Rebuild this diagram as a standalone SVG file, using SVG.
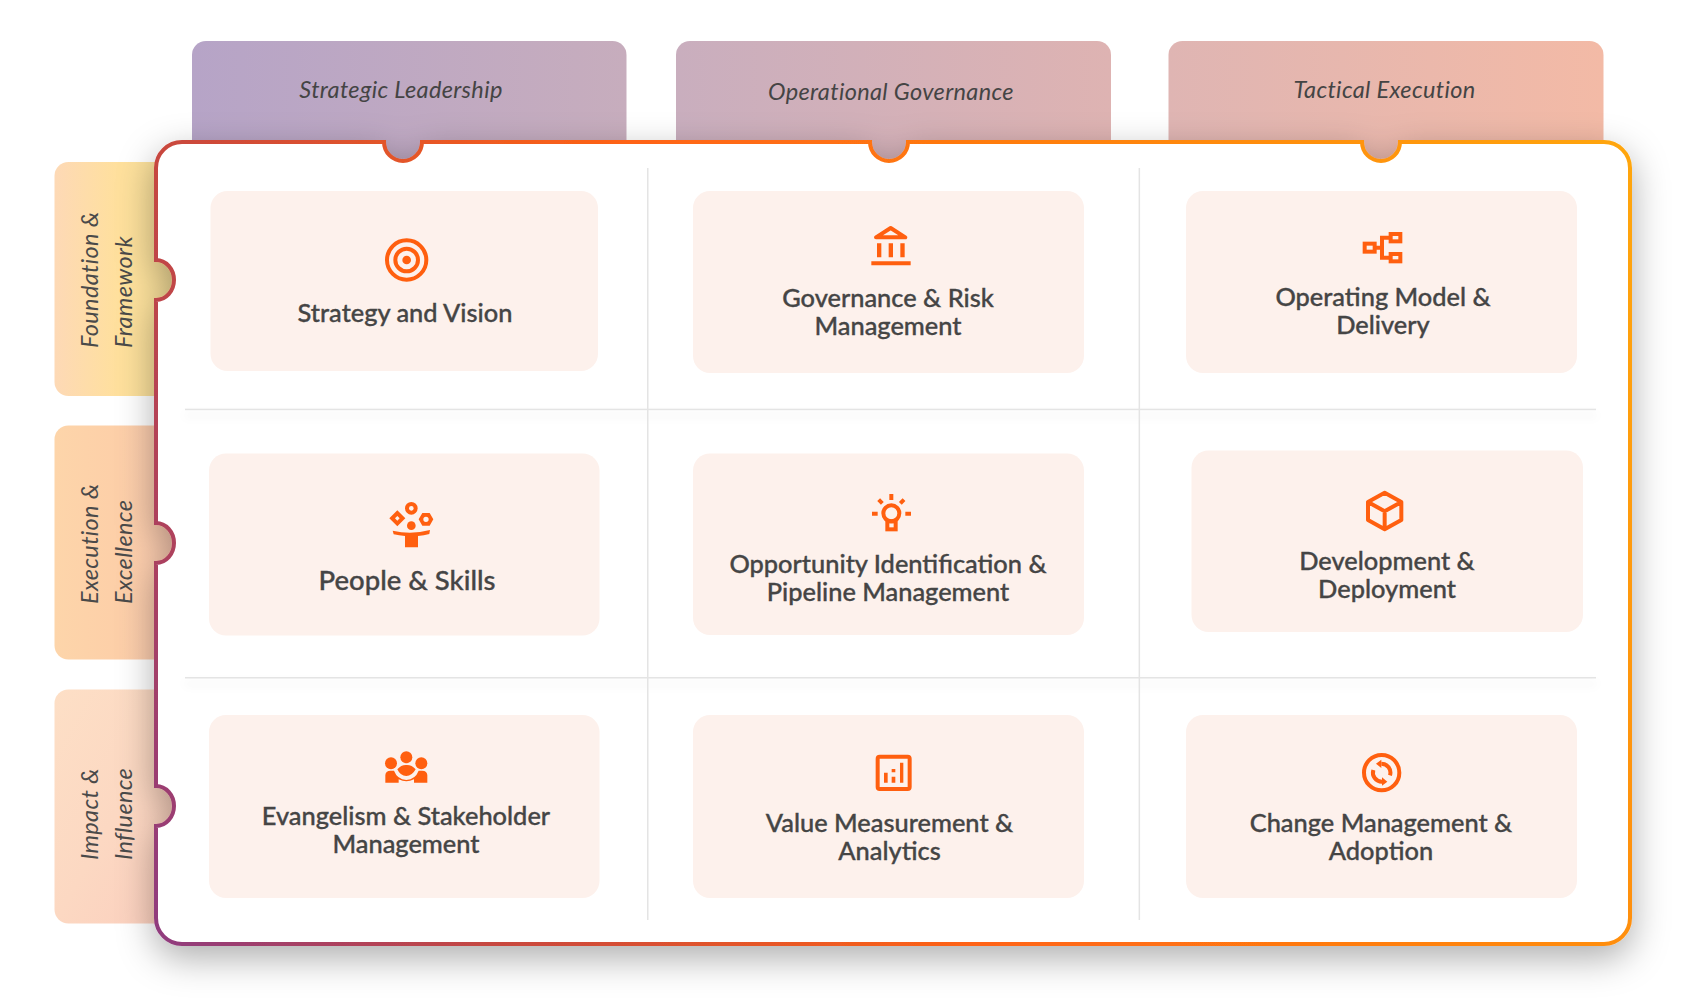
<svg xmlns="http://www.w3.org/2000/svg" width="1706" height="1003" viewBox="0 0 1706 1003">
<style>
.h{font-family:"Lato","Open Sans",sans-serif;font-style:italic;font-size:23.5px;letter-spacing:.35px;fill:#444;text-anchor:middle}
.s{font-family:"Lato","Open Sans",sans-serif;font-style:italic;font-size:23.5px;letter-spacing:.35px;fill:#4a4a4a}
.c{font-family:"Lato","Open Sans",sans-serif;font-weight:500;font-size:25.4px;fill:#454545;text-anchor:middle;stroke:#454545;stroke-width:.35}
.card{fill:#fdf1ec}
.i{fill:none;stroke:#ff5f0f;stroke-width:12}
.f{fill:#ff5f0f}
.d{fill:#e4e4e4}
</style>
<defs>
<linearGradient id="t1" x1="0" y1="0" x2="1" y2="0"><stop offset="0" stop-color="#b6a4c7"/><stop offset="1" stop-color="#c7adbd"/></linearGradient>
<linearGradient id="t2" x1="0" y1="0" x2="1" y2="0"><stop offset="0" stop-color="#c9aebe"/><stop offset="1" stop-color="#deb3b2"/></linearGradient>
<linearGradient id="t3" x1="0" y1="0" x2="1" y2="0"><stop offset="0" stop-color="#dfb5b3"/><stop offset="1" stop-color="#f3baa6"/></linearGradient>
<linearGradient id="l1" x1="0" y1="0" x2="1" y2="0"><stop offset="0" stop-color="#fdd9b6"/><stop offset=".5" stop-color="#ffe09c"/><stop offset="1" stop-color="#f6e09a"/></linearGradient>
<linearGradient id="l2" x1="0" y1="0" x2="1" y2="0"><stop offset="0" stop-color="#fdd5aa"/><stop offset=".5" stop-color="#fdcfa8"/><stop offset="1" stop-color="#fbcab4"/></linearGradient>
<linearGradient id="l3" x1="0" y1="0" x2="1" y2="1"><stop offset="0" stop-color="#fddfc6"/><stop offset=".5" stop-color="#fcd8c2"/><stop offset="1" stop-color="#fbcdbd"/></linearGradient>
<linearGradient id="frame" gradientUnits="userSpaceOnUse" x1="156" y1="944" x2="1692" y2="286"><stop offset="0" stop-color="#8f3b7f"/><stop offset=".19" stop-color="#c8473e"/><stop offset=".45" stop-color="#ff6314"/><stop offset="1" stop-color="#ffa60a"/></linearGradient>
<filter id="sh" filterUnits="userSpaceOnUse" x="0" y="0" width="1706" height="1003"><feDropShadow dx="0" dy="12" stdDeviation="18" flood-color="#000" flood-opacity=".32"/></filter>
<filter id="ls" filterUnits="userSpaceOnUse" x="0" y="0" width="1706" height="1003"><feDropShadow dx="0" dy="6" stdDeviation="4" flood-color="#000" flood-opacity=".1"/></filter>
</defs>
<rect width="1706" height="1003" fill="#fff"/>

<g id="tab-strategic">
<rect x="192" y="41" width="434.500" height="130" rx="14" fill="url(#t1)"/>
<text class="h" x="401" y="98">Strategic Leadership</text>
</g>
<g id="tab-operational">
<rect x="676" y="41" width="435" height="130" rx="14" fill="url(#t2)"/>
<text class="h" x="891" y="100">Operational Governance</text>
</g>
<g id="tab-tactical">
<rect x="1168.500" y="41" width="435" height="130" rx="14" fill="url(#t3)"/>
<text class="h" x="1384.500" y="98">Tactical Execution</text>
</g>
<g id="tab-foundation">
<rect x="54.500" y="162" width="130" height="234" rx="14" fill="url(#l1)"/>
<text class="s" transform="translate(98,348) rotate(-90)">Foundation &amp;</text>
<text class="s" transform="translate(131.500,348) rotate(-90)">Framework</text>
</g>
<g id="tab-execution">
<rect x="54.500" y="425.500" width="130" height="234" rx="14" fill="url(#l2)"/>
<text class="s" transform="translate(98,604) rotate(-90)">Execution &amp;</text>
<text class="s" transform="translate(131.500,604) rotate(-90)">Excellence</text>
</g>
<g id="tab-impact">
<rect x="54.500" y="689.500" width="130" height="234" rx="14" fill="url(#l3)"/>
<text class="s" transform="translate(98,860) rotate(-90)">Impact &amp;</text>
<text class="s" transform="translate(131.500,860) rotate(-90)">Influence</text>
</g>

<path id="frame-panel" d="M182 142H384A19 19 0 0 0 422 142H870A19 19 0 0 0 908 142H1362A19 19 0 0 0 1400 142H1604A26 26 0 0 1 1630 168V918A26 26 0 0 1 1604 944H182A26 26 0 0 1 156 918V826A18 20 0 0 0 156 786V563A18 20 0 0 0 156 523V300A18 20 0 0 0 156 260V168A26 26 0 0 1 182 142Z" fill="#fff" stroke="url(#frame)" stroke-width="4" filter="url(#sh)"/>

<g id="connectors">
<rect class="d" x="185" y="408.700" width="1411" height="1.500" filter="url(#ls)"/>
<rect class="d" x="185" y="677" width="1411" height="1.500" filter="url(#ls)"/>
<rect class="d" x="647" y="168" width="1.500" height="752"/>
<rect class="d" x="1138.600" y="168" width="1.500" height="752"/>
</g>

<g id="node-strategy">
<rect class="card" x="210.500" y="191" width="387.500" height="180" rx="17"/>
<g transform="translate(350,210) scale(.3333)">
<circle class="i" cx="170" cy="150" r="59" stroke-width="13"/>
<circle class="i" cx="170" cy="150" r="34" stroke-width="12"/>
<circle class="f" cx="170" cy="150" r="13"/>
</g>
<text class="c" x="405" y="322">Strategy and Vision</text>
</g>

<g id="node-governance">
<rect class="card" x="693" y="191" width="391" height="182" rx="17"/>
<g transform="translate(840,210) scale(.3333)">
<path class="i" d="M152 54L196 82H108Z" stroke-linejoin="round" stroke-width="13"/>
<path class="f" d="M111 100h13v42h-13zM146 100h13v42h-13zM181 100h13v42h-13zM94 154h118v12H94z"/>
</g>
<text class="c" x="888" y="307">Governance &amp; Risk</text>
<text class="c" x="888" y="335">Management</text>
</g>

<g id="node-operating">
<rect class="card" x="1186" y="191" width="391" height="182" rx="17"/>
<g transform="translate(1340,210) scale(.3333)">
<rect class="i" x="74" y="101" width="30" height="24"/>
<rect class="i" x="152" y="72" width="29" height="22"/>
<rect class="i" x="152" y="132" width="29" height="22"/>
<path class="i" d="M104 113H126M152 83H126V143H152"/>
</g>
<text class="c" x="1383" y="306">Operating Model &amp;</text>
<text class="c" x="1383" y="334">Delivery</text>
</g>

<g id="node-people">
<rect class="card" x="209" y="453.500" width="390.500" height="182" rx="17"/>
<g transform="translate(350,480) scale(.3333)">
<circle class="i" cx="184" cy="85" r="13"/>
<path class="f" fill-rule="evenodd" d="M142 91L166 115L142 139L118 115ZM142 108L135 115L142 122L149 115Z"/>
<path class="f" fill-rule="evenodd" d="M217 99H239L250 118L239 137H217L206 118ZM228 110A8 8 0 1 0 228 126A8 8 0 1 0 228 110Z"/>
<circle class="f" cx="184" cy="137" r="13"/>
<path class="f" d="M128 152Q184 165 240 150L238 162Q222 167 204 168V202H165V168Q147 167 131 163Z"/>
</g>
<text class="c" style="font-size:27.500px" x="407" y="590">People &amp; Skills</text>
</g>

<g id="node-opportunity">
<rect class="card" x="693" y="453.500" width="391" height="181.500" rx="17"/>
<g transform="translate(840,480) scale(.3333)">
<path class="i" d="M154 42V60M116 59L127 70M192 59L181 70M96 101H113M196 101H213" stroke-width="11"/>
<circle class="i" cx="154" cy="100" r="24" stroke-width="11"/>
<rect class="i" x="142" y="124" width="25" height="24" stroke-width="10"/>
</g>
<text class="c" x="888" y="573">Opportunity Identification &amp;</text>
<text class="c" x="888" y="601">Pipeline Management</text>
</g>

<g id="node-development">
<rect class="card" x="1191.500" y="450.500" width="391.500" height="181.500" rx="17"/>
<g transform="translate(1340,480) scale(.3333)">
<path class="i" stroke-linejoin="round" d="M134 38L184 66V120L134 148L84 120V66ZM84 66L134 94L184 66M134 94V148"/>
</g>
<text class="c" x="1387" y="570">Development &amp;</text>
<text class="c" x="1387" y="598">Deployment</text>
</g>

<g id="node-evangelism">
<rect class="card" x="209" y="715" width="390.500" height="183" rx="17"/>
<g transform="translate(350,740) scale(.3333)">
<circle class="f" cx="123" cy="70" r="18"/>
<circle class="f" cx="169" cy="52" r="18"/>
<circle class="f" cx="214" cy="70" r="18"/>
<path class="f" d="M142 88Q154 74 169 75Q185 74 197 88Q186 108 169 108Q151 108 142 88Z"/>
<path class="f" d="M106 128V106Q106 92 122 92H132Q142 118 169 120Q196 118 206 92H216Q232 92 232 106V128H192V118Q180 124 169 124Q158 124 146 118V128Z"/>
</g>
<text class="c" x="406" y="825">Evangelism &amp; Stakeholder</text>
<text class="c" x="406" y="852.500">Management</text>
</g>

<g id="node-value">
<rect class="card" x="693" y="715" width="391" height="183" rx="17"/>
<g transform="translate(840,740) scale(.3333)">
<rect class="i" x="113" y="50" width="96" height="97" rx="6"/>
<path class="f" d="M132 98h11v30h-11zM155 87h11v10h-11zM155 110h11v18h-11zM180 68h10v60h-10z"/>
</g>
<text class="c" x="889.500" y="832">Value Measurement &amp;</text>
<text class="c" x="889.500" y="860">Analytics</text>
</g>

<g id="node-change">
<rect class="card" x="1186" y="715" width="391" height="183" rx="17"/>
<g transform="translate(1340,740) scale(.3333)">
<circle class="i" cx="125" cy="98" r="53"/>
<path class="i" stroke-width="8" d="M124 71A27 27 0 0 1 150 106"/>
<path class="i" stroke-width="8" d="M126 125A27 27 0 0 1 100 90"/>
<path class="f" d="M124 59V84L108 71ZM126 112V137L142 125Z"/>
</g>
<text class="c" x="1381" y="832">Change Management &amp;</text>
<text class="c" x="1381" y="860">Adoption</text>
</g>
</svg>
